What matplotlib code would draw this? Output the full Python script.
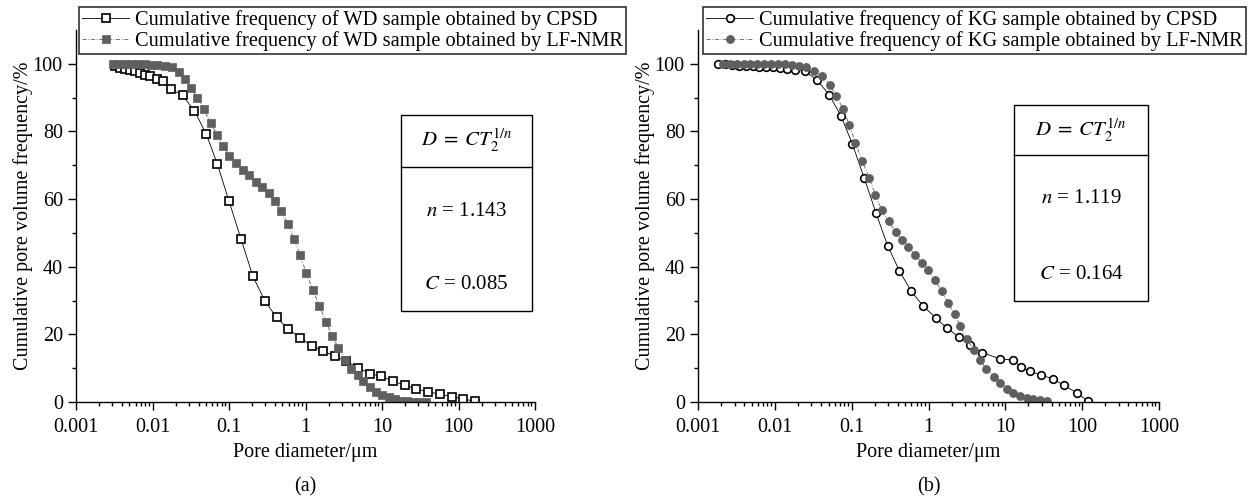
import matplotlib
matplotlib.use("Agg")
import matplotlib.pyplot as plt
from matplotlib.patches import Rectangle
from matplotlib.ticker import FixedLocator, LogLocator, MultipleLocator, NullFormatter

# Cumulative pore volume frequency (%).
# (a) WD sample
wd_cpsd_d = [0.0032, 0.0038, 0.0044, 0.0051, 0.0059, 0.0069, 0.0079, 0.0093, 0.0114, 0.0138,
             0.0174, 0.0247, 0.0353, 0.0505, 0.0703, 0.100, 0.144, 0.205, 0.293, 0.418,
             0.597, 0.853, 1.21, 1.70, 2.43, 3.43, 4.89, 6.92, 9.77, 14.1,
             20.0, 27.5, 40.3, 57.5, 81.3, 115, 166]
wd_cpsd_f = [99.5, 98.8, 98.5, 98.1, 97.8, 97.3, 96.8, 96.3, 95.6, 94.8,
             92.5, 90.7, 86.1, 79.2, 70.4, 59.4, 48.1, 37.2, 30.0, 25.0,
             21.5, 19.0, 16.6, 15.1, 13.5, 12.0, 10.1, 8.4, 7.6, 6.1,
             5.0, 3.9, 3.0, 2.3, 1.6, 0.9, 0.2]

wd_nmr_d = [0.00302, 0.00363, 0.00447, 0.00537, 0.00646, 0.00794, 0.00955, 0.0115, 0.0145, 0.0178,
            0.0219, 0.0266, 0.0318, 0.0385, 0.0471, 0.0575, 0.0697, 0.0841, 0.100, 0.123,
            0.151, 0.182, 0.223, 0.273, 0.330, 0.404, 0.482, 0.590, 0.705, 0.853,
            1.02, 1.25, 1.51, 1.85, 2.21, 2.70, 3.31, 3.98, 4.79, 5.70,
            6.98, 8.32, 10.0, 12.2, 14.8, 17.8, 21.4, 25.7, 30.9, 38.0]
wd_nmr_f = [100.0, 100.0, 100.0, 99.9, 99.9, 99.8, 99.7, 99.6, 99.4, 99.0,
            97.5, 95.4, 92.9, 90.0, 86.5, 82.6, 79.0, 75.8, 72.8, 70.7,
            68.7, 67.0, 65.2, 63.7, 61.9, 59.4, 56.4, 52.7, 48.3, 43.4,
            38.2, 33.2, 28.5, 23.8, 19.6, 16.0, 12.5, 9.8, 7.9, 6.1,
            4.4, 3.1, 2.2, 1.4, 0.8, 0.4, 0.2, 0.1, 0.05, 0.0]

# (b) KG sample
kg_cpsd_d = [0.00182, 0.00224, 0.00275, 0.00339, 0.00417, 0.00513, 0.00631, 0.00776, 0.00955, 0.0117,
             0.0145, 0.0182, 0.0247, 0.0351, 0.0508, 0.0723, 0.102, 0.146, 0.207, 0.294,
             0.418, 0.594, 0.851, 1.24, 1.74, 2.47, 3.51, 5.01, 8.47, 12.4,
             16.2, 20.9, 29.5, 41.4, 58.2, 85.1, 120]
kg_cpsd_f = [100.0, 99.8, 99.6, 99.5, 99.4, 99.3, 99.2, 99.1, 99.0, 98.8,
             98.6, 98.3, 97.8, 95.3, 90.9, 84.7, 76.3, 66.2, 55.9, 46.2,
             38.8, 32.8, 28.4, 24.9, 21.8, 19.3, 17.0, 14.6, 12.8, 12.4,
             10.3, 9.1, 7.9, 6.9, 4.9, 2.7, 0.2]

kg_nmr_d = [0.00214, 0.00263, 0.00324, 0.00398, 0.00479, 0.00589, 0.00724, 0.00891, 0.0110, 0.0135,
            0.0166, 0.0204, 0.0251, 0.0324, 0.0417, 0.0525, 0.0631, 0.0776, 0.0933, 0.112,
            0.138, 0.170, 0.204, 0.248, 0.302, 0.372, 0.453, 0.548, 0.670, 0.817,
            0.991, 1.21, 1.48, 1.79, 2.19, 2.59, 3.16, 3.89, 4.65, 5.68,
            7.08, 8.65, 10.4, 12.6, 15.5, 18.9, 22.9, 28.2, 34.7]
kg_nmr_f = [100.0, 100.0, 100.0, 100.0, 100.0, 100.0, 99.9, 99.9, 99.8, 99.8,
            99.7, 99.5, 99.0, 98.0, 96.5, 93.6, 90.5, 86.6, 81.9, 76.6,
            71.2, 66.2, 61.1, 56.7, 53.4, 50.4, 47.9, 45.7, 43.5, 41.2,
            39.1, 36.1, 32.8, 29.4, 25.9, 22.5, 18.7, 15.4, 12.4, 9.8,
            7.5, 5.5, 3.9, 2.7, 1.7, 1.2, 0.8, 0.5, 0.3]

x_ticks = [0.001, 0.01, 0.1, 1, 10, 100, 1000]
x_tick_labels = ["0.001", "0.01", "0.1", "1", "10", "100", "1000"]
y_ticks = [0, 20, 40, 60, 80, 100]

plt.rcParams["font.family"] = ["Liberation Serif", "DejaVu Serif"]
plt.rcParams["mathtext.fontset"] = "stix"
FS = 14.5
GREY = "#5f5f5f"

fig = plt.figure(figsize=(12.51, 5.01), dpi=100)
W, H = 1251.0, 501.0


def style_axes(ax):
    ax.set_xscale("log")
    ax.set_xlim(0.001, 1000)
    ax.set_ylim(0, 110)
    ax.spines["top"].set_visible(False)
    ax.spines["right"].set_visible(False)
    for s in ("left", "bottom"):
        ax.spines[s].set_linewidth(1.0)
    ax.xaxis.set_major_locator(FixedLocator(x_ticks))
    ax.set_xticklabels(x_tick_labels)
    ax.xaxis.set_minor_locator(LogLocator(base=10, subs=range(2, 10), numticks=20))
    ax.xaxis.set_minor_formatter(NullFormatter())
    ax.set_yticks(y_ticks)
    ax.yaxis.set_minor_locator(FixedLocator([10, 30, 50, 70, 90]))
    ax.tick_params(which="major", direction="out", length=5.5, width=1.0, labelsize=FS)
    ax.tick_params(which="minor", direction="out", length=3, width=1.0)
    ax.tick_params(axis="x", pad=6)
    ax.tick_params(axis="y", pad=4)
    ax.set_xlabel("Pore diameter/\u03bcm", fontsize=FS, labelpad=4)
    ax.set_ylabel("Cumulative pore volume frequency/%", fontsize=FS, labelpad=0)


def formula_box(ax, x0, x1, y0, ymid, y1, n_txt, c_txt, n_y, c_y):
    ax.add_patch(Rectangle((x0, y0), x1 - x0, y1 - y0, fill=False, ec="black", lw=1.0, zorder=5))
    ax.plot([x0, x1], [ymid, ymid], color="black", lw=1.0, zorder=5)
    xc = (x0 * x1) ** 0.5
    ax.text(xc, (ymid + y1) / 2, r"$D\;=\;CT_2^{1/n}$", ha="center", va="center", fontsize=15)
    ax.text(xc, n_y, r"$n$ = " + n_txt, ha="center", va="center", fontsize=15)
    ax.text(xc, c_y, r"$C$ = " + c_txt, ha="center", va="center", fontsize=15)


def add_legend(ax, left_px):
    leg = ax.legend(loc="upper left", bbox_to_anchor=(left_px / W, 1 - 7 / H),
                    bbox_transform=fig.transFigure, fontsize=14.7, frameon=True, fancybox=False,
                    edgecolor="black", borderpad=0.15, labelspacing=0.05, handlelength=2.3,
                    handletextpad=0.3, borderaxespad=0, numpoints=1)
    leg.get_frame().set_linewidth(1.2)
    leg.set_zorder(10)


# (a) WD
ax1 = fig.add_axes([76 / W, 1 - 402 / H, 459 / W, 372 / H])
ax1.plot(wd_cpsd_d, wd_cpsd_f, marker="s", ms=5.5, mfc="white", mec="black", mew=1.2,
         color="black", lw=0.6, label="Cumulative frequency of WD sample obtained by CPSD")
ax1.plot(wd_nmr_d, wd_nmr_f, marker="s", ms=5.5, mfc=GREY, mec=GREY, mew=0.5,
         color=GREY, lw=0.6, ls=(0, (5, 2, 1, 2)),
         label="Cumulative frequency of WD sample obtained by LF-NMR")
style_axes(ax1)
formula_box(ax1, 17.7, 912, 26.8, 69.6, 85.0, "1.143", "0.085", 56.3, 34.6)
add_legend(ax1, 79)
fig.text((76 + 535) / 2 / W, 0.028, "(a)", fontsize=FS, ha="center", va="center")

# (b) KG
ax2 = fig.add_axes([698 / W, 1 - 402 / H, 461 / W, 372 / H])
ax2.plot(kg_cpsd_d, kg_cpsd_f, marker="o", ms=5.5, mfc="white", mec="black", mew=1.2,
         color="black", lw=0.6, label="Cumulative frequency of KG sample obtained by CPSD")
ax2.plot(kg_nmr_d, kg_nmr_f, marker="o", ms=5.8, mfc=GREY, mec=GREY, mew=0.5,
         color=GREY, lw=0.6, ls=(0, (5, 2, 1, 2)),
         label="Cumulative frequency of KG sample obtained by LF-NMR")
style_axes(ax2)
formula_box(ax2, 13.0, 724, 29.9, 73.0, 87.8, "1.119", "0.164", 60.3, 37.7)
add_legend(ax2, 703)
fig.text((698 + 1159) / 2 / W, 0.028, "(b)", fontsize=FS, ha="center", va="center")

fig.savefig("out.png", dpi=100)
